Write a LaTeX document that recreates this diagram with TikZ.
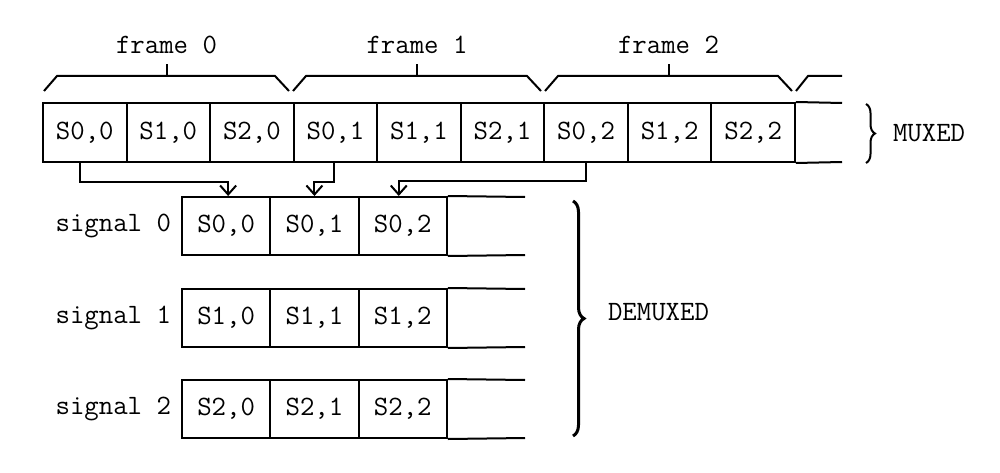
\documentclass[tikz,border=0pt]{standalone}
\usetikzlibrary{arrows.meta,decorations.pathreplacing,calc}
\begin{document}
\begin{tikzpicture}[x=1pt,y=-1pt,
  font=\ttfamily\fontsize{28}{32}\selectfont,
  line width=2pt,
  mcell/.style={draw,rectangle,minimum width=83.55pt,minimum height=59pt,inner sep=0pt,anchor=center},
  dcell/.style={draw,rectangle,minimum width=88.3pt,minimum height=58pt,inner sep=0pt,anchor=center},
  arr/.style={-{Straight Barb[length=9pt,width=16pt]}},
  fbrace/.style={line width=2pt},
  lbl/.style={inner sep=0pt}]
\useasboundingbox (0,0) rectangle (1000,473);
% muxed row
\node[mcell] (m00) at ({43+83.55*0.5},132.5) {S0,0};
\node[mcell] (m10) at ({43+83.55*1.5},132.5) {S1,0};
\node[mcell] (m20) at ({43+83.55*2.5},132.5) {S2,0};
\node[mcell] (m01) at ({43+83.55*3.5},132.5) {S0,1};
\node[mcell] (m11) at ({43+83.55*4.5},132.5) {S1,1};
\node[mcell] (m21) at ({43+83.55*5.5},132.5) {S2,1};
\node[mcell] (m02) at ({43+83.55*6.5},132.5) {S0,2};
\node[mcell] (m12) at ({43+83.55*7.5},132.5) {S1,2};
\node[mcell] (m22) at ({43+83.55*8.5},132.5) {S2,2};
\coordinate (mendt) at (842,103);
\coordinate (mendb) at (842,162);
\draw (m22.north east) -- (mendt);
\draw (m22.south east) -- (mendb);
% frame braces
\foreach \xb/\xe/\lab in {43/292/frame 0, 292/544/frame 1, 544/795/frame 2}{
  \draw[fbrace] (\xb+1,91) -- (\xb+14,76) -- (\xe-17,76) -- (\xe-3,91);
  \draw[fbrace] ({(\xb+\xe)/2-1},76) -- ({(\xb+\xe)/2-1},64);
  \node[lbl] at ({(\xb+\xe)/2-1},45) {\lab};
}
\draw[fbrace] (796,91) -- (808,76) -- (842,76);
% demuxed rows
\foreach \r/\yc in {0/226,1/318,2/409}{
  \node[dcell] (d\r0) at ({182+88.3*0.5},\yc) {S\r,0};
  \node[dcell] (d\r1) at ({182+88.3*1.5},\yc) {S\r,1};
  \node[dcell] (d\r2) at ({182+88.3*2.5},\yc) {S\r,2};
  \node[lbl,anchor=east] (sig\r) at (172,\yc) {signal \r};
  \coordinate (de\r t) at (525,\yc-29);
  \coordinate (de\r b) at (525,\yc+29);
  \draw (d\r2.north east) -- (de\r t);
  \draw (d\r2.south east) -- (de\r b);
}
% arrows
\draw[arr] ([xshift=-5pt]m00.south) |- ([xshift=2pt,yshift=14pt]d00.north) -- ([xshift=2pt]d00.north);
\draw[arr] ([xshift=-1pt]m01.south) |- ([yshift=14pt]d01.north) -- (d01.north);
\draw[arr] (m02.south) |- ([xshift=-4pt,yshift=15pt]d02.north) -- ([xshift=-4pt]d02.north);
% braces
\coordinate (mbt) at (866,104);
\coordinate (mbb) at (866,163);
\draw[decorate,decoration={brace,amplitude=9pt},line width=2pt] (mbt) -- (mbb);
\node[lbl,anchor=west] (mux) at (892,133) {MUXED};
\coordinate (dbt) at (573,201);
\coordinate (dbb) at (573,436);
\draw[decorate,decoration={brace,amplitude=11pt},line width=3pt] (dbt) -- (dbb);
\node[lbl,anchor=west] (demux) at (607,312) {DEMUXED};
\end{tikzpicture}
\end{document}
